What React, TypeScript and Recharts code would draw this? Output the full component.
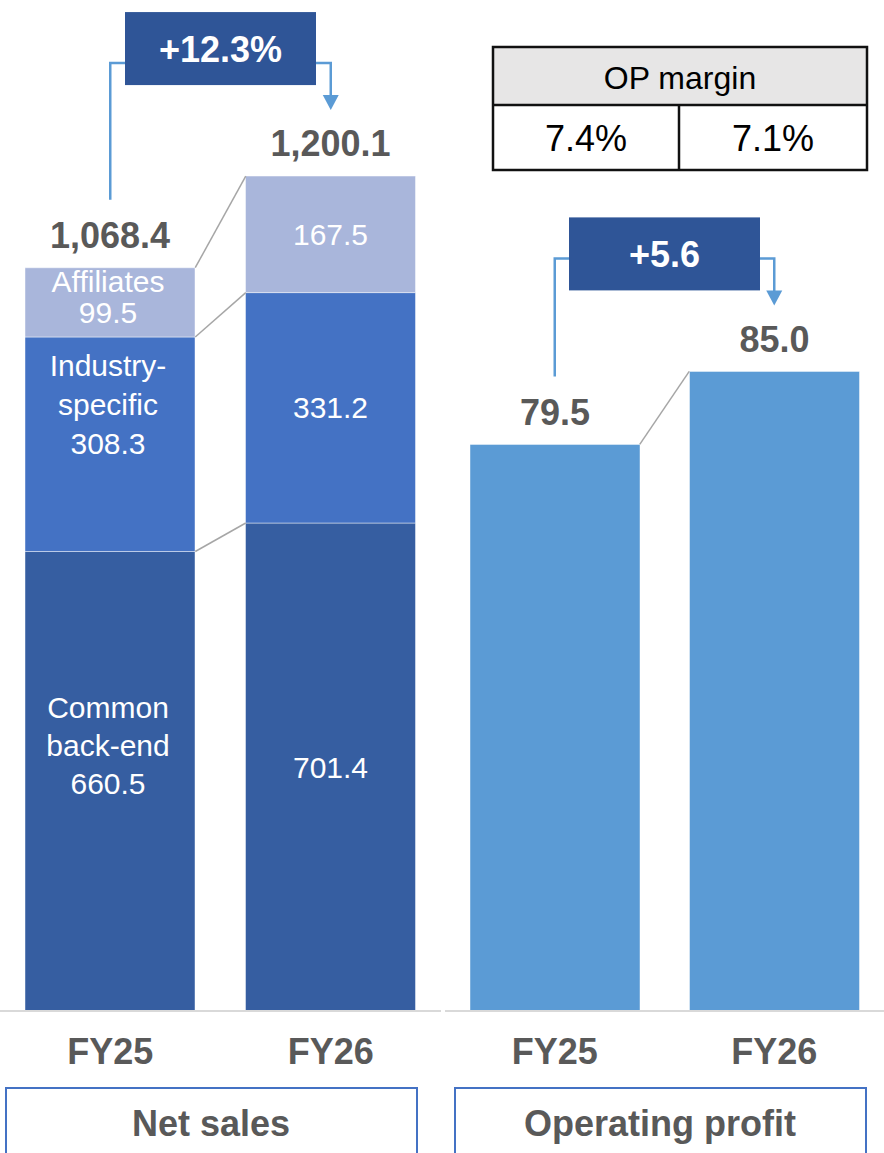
import React from "react";
import { BarChart, Bar, XAxis, YAxis, LabelList, ReferenceLine } from "recharts";

const years = ["FY25", "FY26"];
const commonBackEnd = [660.5, 701.4];
const industrySpecific = [308.3, 331.2];
const affiliates = [99.5, 167.5];
const netSales = [1068.4, 1200.1];
const operatingProfit = [79.5, 85.0];
const opMargin = ["7.4%", "7.1%"];
const salesGrowth = "+12.3%";
const profitGrowth = "+5.6";
const segmentNames: Record<string, string[]> = {
  common: ["Common", "back-end"],
  industry: ["Industry-", "specific"],
  affiliates: ["Affiliates"],
};

const FONT = "'Liberation Sans', Arial, sans-serif";
const GREY_TEXT = "#595959";
const BAR_SIZE = 170;

const fmt1 = (v: number) =>
  v.toLocaleString("en-US", { minimumFractionDigits: 1, maximumFractionDigits: 1 });

const salesData = years.map((year, i) => ({
  year,
  common: commonBackEnd[i],
  industry: industrySpecific[i],
  affiliates: affiliates[i],
  total: netSales[i],
}));

const profitData = years.map((year, i) => ({ year, profit: operatingProfit[i] }));

// stack tops used for the thin connector lines between the two bars
const stackTops = years.map((_, i) => [
  commonBackEnd[i],
  commonBackEnd[i] + industrySpecific[i],
  netSales[i],
]);

// white label inside a stacked segment; names only on the first year
const segmentLabel = (key: string, lift: number, gap: number) => (props: any) => {
  const vb = props.viewBox || props;
  const { x, y, width, height } = vb;
  const idx = props.index;
  const value = Number(props.value);
  const lines = idx === 0 ? [...segmentNames[key], fmt1(value)] : [fmt1(value)];
  const cx = x + width / 2;
  const cy = y + height / 2 - (lines.length > 1 ? lift : 0);
  const first = cy - ((lines.length - 1) * gap) / 2 + 10.5;
  return (
    <text textAnchor="middle" fill="#ffffff" fontSize={30} fontFamily={FONT}>
      {lines.map((l, k) => (
        <tspan key={k} x={idx === 0 ? cx - 2 : cx} y={first + k * gap}>
          {l}
        </tspan>
      ))}
    </text>
  );
};

const connector = (p: any) => (
  <line
    x1={p.x1 + BAR_SIZE / 2}
    y1={p.y1}
    x2={p.x2 - BAR_SIZE / 2}
    y2={p.y2}
    stroke="#A6A6A6"
    strokeWidth={1.5}
  />
);

// elbow arrow from first bar to second with the growth box on it
const growthCallout = (label: string, boxLift: number) => (p: any) => {
  const { x1, y1, x2, y2 } = p;
  const elbow = y2 - 113;
  const tip = y2 - 66;
  const mid = (x1 + x2) / 2;
  const bw = 191;
  const bh = 73;
  const boxTop = y2 - boxLift;
  return (
    <g>
      <polyline
        points={`${x1},${y1 - 68} ${x1},${elbow} ${x2},${elbow} ${x2},${tip - 14}`}
        fill="none"
        stroke="#5B9BD5"
        strokeWidth={2.5}
      />
      <polygon points={`${x2 - 8},${tip - 15} ${x2 + 8},${tip - 15} ${x2},${tip}`} fill="#5B9BD5" />
      <rect x={mid - bw / 2} y={boxTop} width={bw} height={bh} fill="#2F5597" />
      <text
        x={mid}
        y={boxTop + bh / 2 + 13}
        textAnchor="middle"
        fill="#ffffff"
        fontSize={36}
        fontWeight="bold"
        fontFamily={FONT}
      >
        {label}
      </text>
    </g>
  );
};

const yearTick = (p: any) => (
  <text
    x={p.x}
    y={p.y + 45}
    textAnchor="middle"
    fill={GREY_TEXT}
    fontSize={36}
    fontWeight="bold"
    fontFamily={FONT}
  >
    {p.payload.value}
  </text>
);

const chartMargin = { top: 37, right: 0, left: 0, bottom: 82 };
const barStroke = "rgba(255,255,255,0.45)";

export default function App() {
  return (
    <div style={{ position: "absolute", left: 0, top: 0, width: 884, height: 1153, background: "#fff", fontFamily: FONT }}>
      <div style={{ position: "absolute", left: 0, top: 0 }}>
        <BarChart width={441} height={1153} data={salesData} margin={chartMargin} barSize={BAR_SIZE}>
          <XAxis
            dataKey="year"
            height={60}
            interval={0}
            tickLine={false}
            axisLine={{ stroke: "#D9D9D9", strokeWidth: 2 }}
            tick={yearTick}
          />
          <YAxis hide domain={[0, 1400]} />
          <Bar dataKey="common" stackId="s" fill="#365EA1" stroke={barStroke} isAnimationActive={false}>
            <LabelList dataKey="common" content={segmentLabel("common", 36, 38)} />
          </Bar>
          <Bar dataKey="industry" stackId="s" fill="#4472C4" stroke={barStroke} isAnimationActive={false}>
            <LabelList dataKey="industry" content={segmentLabel("industry", 40, 39)} />
          </Bar>
          <Bar dataKey="affiliates" stackId="s" fill="#A9B6DB" stroke={barStroke} isAnimationActive={false}>
            <LabelList dataKey="affiliates" content={segmentLabel("affiliates", 5, 31)} />
            <LabelList
              dataKey="total"
              position="top"
              offset={20}
              fill={GREY_TEXT}
              fontSize={36}
              fontWeight="bold"
              fontFamily={FONT}
              formatter={(v: any) => fmt1(Number(v))}
            />
          </Bar>
          {[0, 1, 2].map((k) => (
            <ReferenceLine
              key={k}
              ifOverflow="visible"
              segment={[
                { x: years[0], y: stackTops[0][k] },
                { x: years[1], y: stackTops[1][k] },
              ]}
              shape={connector}
            />
          ))}
          <ReferenceLine
            ifOverflow="visible"
            segment={[
              { x: years[0], y: netSales[0] },
              { x: years[1], y: netSales[1] },
            ]}
            shape={growthCallout(salesGrowth, 164)}
          />
        </BarChart>
      </div>
      <div style={{ position: "absolute", left: 445, top: 0 }}>
        <BarChart width={439} height={1153} data={profitData} margin={chartMargin} barSize={BAR_SIZE}>
          <XAxis
            dataKey="year"
            height={60}
            interval={0}
            tickLine={false}
            axisLine={{ stroke: "#D9D9D9", strokeWidth: 2 }}
            tick={yearTick}
          />
          <YAxis hide domain={[36.8, 110.2]} />
          <Bar dataKey="profit" fill="#5B9BD5" stroke={barStroke} isAnimationActive={false}>
            <LabelList
              dataKey="profit"
              position="top"
              offset={19}
              fill={GREY_TEXT}
              fontSize={36}
              fontWeight="bold"
              fontFamily={FONT}
              formatter={(v: any) => Number(v).toFixed(1)}
            />
          </Bar>
          <ReferenceLine
            ifOverflow="visible"
            segment={[
              { x: years[0], y: operatingProfit[0] },
              { x: years[1], y: operatingProfit[1] },
            ]}
            shape={connector}
          />
          <ReferenceLine
            ifOverflow="visible"
            segment={[
              { x: years[0], y: operatingProfit[0] },
              { x: years[1], y: operatingProfit[1] },
            ]}
            shape={growthCallout(profitGrowth, 154)}
          />
        </BarChart>
      </div>
      <svg width={884} height={1153} style={{ position: "absolute", left: 0, top: 0, pointerEvents: "none" }}>
        <rect x={493} y={47} width={374} height={58} fill="#E7E6E6" />
        <rect x={493} y={47} width={374} height={123} fill="none" stroke="#111" strokeWidth={2.5} />
        <line x1={493} y1={105} x2={867} y2={105} stroke="#111" strokeWidth={2.5} />
        <line x1={679} y1={105} x2={679} y2={170} stroke="#111" strokeWidth={2.5} />
        <text x={680} y={89} textAnchor="middle" fontSize={32} fill="#000" fontFamily={FONT}>
          OP margin
        </text>
        {opMargin.map((m, i) => (
          <text key={m} x={586 + i * 187} y={151} textAnchor="middle" fontSize={36} fill="#000" fontFamily={FONT}>
            {m}
          </text>
        ))}
        <rect x={6} y={1088} width={411} height={80} fill="none" stroke="#4472C4" strokeWidth={2} />
        <text x={211} y={1136} textAnchor="middle" fontSize={36} fontWeight="bold" fill={GREY_TEXT} fontFamily={FONT}>
          Net sales
        </text>
        <rect x={455} y={1088} width={411} height={80} fill="none" stroke="#4472C4" strokeWidth={2} />
        <text x={660} y={1136} textAnchor="middle" fontSize={36} fontWeight="bold" fill={GREY_TEXT} fontFamily={FONT}>
          Operating profit
        </text>
      </svg>
    </div>
  );
}
